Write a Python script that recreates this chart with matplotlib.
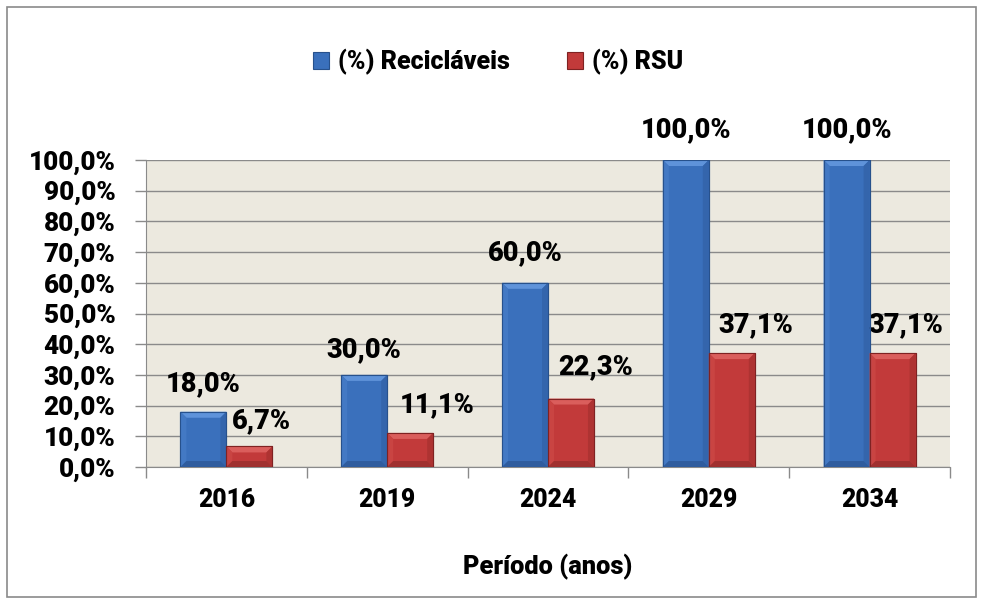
import matplotlib
matplotlib.use("Agg")
import matplotlib.pyplot as plt
import numpy as np
from matplotlib.patches import Polygon

plt.rcParams['font.family'] = ['Roboto', 'DejaVu Sans']
plt.rcParams['font.weight'] = 900

categories = ['2016', '2019', '2024', '2029', '2034']
reciclaveis = [18.0, 30.0, 60.0, 100.0, 100.0]
rsu = [6.7, 11.1, 22.3, 37.1, 37.1]
series_names = ['(%) Recicláveis', '(%) RSU']
yticks = [0, 10, 20, 30, 40, 50, 60, 70, 80, 90, 100]
x_label = 'Período (anos)'

fig = plt.figure(figsize=(9.84, 6.04), dpi=100)
ax = fig.add_axes([146/984, 1-467/604, (950-146)/984, (467-160)/604])
ax.set_facecolor('#ECE9DF')

x = np.arange(len(categories))
w = 0.286
blue = '#3A70BC'
red = '#C23A3A'
b1 = ax.bar(x - w/2, reciclaveis, w, color=blue, edgecolor='#27518c', linewidth=0.8, zorder=3, label=series_names[0])
b2 = ax.bar(x + w/2, rsu, w, color=red, edgecolor='#7f2222', linewidth=0.8, zorder=3, label=series_names[1])

ax.set_xlim(-0.5, len(categories) - 0.5)
ax.set_ylim(0, 100)

# bevel effect derived from each bar's geometry
bx = 6 / 160.8
by = 6 / 3.07
def bevel(bars, light, side_l, side_r, bottom):
    for p in bars:
        x0, y0 = p.get_x(), p.get_y()
        x1, y1 = x0 + p.get_width(), y0 + p.get_height()
        pts = {
            'top': [(x0, y1), (x0 + bx, y1 - by), (x1 - bx, y1 - by), (x1, y1)],
            'left': [(x0, y1), (x0 + bx, y1 - by), (x0 + bx, y0 + by), (x0, y0)],
            'right': [(x1, y1), (x1 - bx, y1 - by), (x1 - bx, y0 + by), (x1, y0)],
            'bottom': [(x0, y0), (x0 + bx, y0 + by), (x1 - bx, y0 + by), (x1, y0)],
        }
        for k, c in (('top', light), ('left', side_l), ('right', side_r), ('bottom', bottom)):
            ax.add_patch(Polygon(pts[k], closed=True, facecolor=c, edgecolor='none', zorder=3.5))
        ax.add_patch(plt.Rectangle((x0, y0), x1 - x0, y1 - y0, fill=False, edgecolor=p.get_edgecolor(), linewidth=0.8, zorder=3.6))

bevel(b1, '#5F93DA', '#4379C4', '#3465AC', '#2F5C9E')
bevel(b2, '#DA5E5C', '#C94442', '#AE3332', '#A0302F')

ax.set_yticks(yticks)
ax.set_yticklabels([f'{v:.1f}%'.replace('.', ',') for v in yticks], fontsize=18.8)
ax.yaxis.grid(True, color='#8a8a8a', linewidth=1.0, zorder=0)
ax.set_axisbelow(True)
ax.tick_params(axis='y', length=8, width=1, color='#8a8a8a', pad=14)
ax.set_xticks(x)
ax.set_xticklabels(categories, fontsize=17.7)
ax.set_xticks(np.arange(-0.5, len(categories)), minor=True)
ax.tick_params(axis='x', which='major', length=0, pad=15)
ax.tick_params(axis='x', which='minor', length=8, width=1, color='#8a8a8a')
for s in ['top', 'right']:
    ax.spines[s].set_visible(False)
ax.spines['left'].set_color('#8a8a8a')
ax.spines['bottom'].set_color('#8a8a8a')
ax.set_xlabel(x_label, fontsize=18.3, fontweight=900, labelpad=30)

dx_r = [11.6, 27, 25, 24, 13.6]
dy_r = [25.4, 28, 31.5, 28, 28]
dy_b = [27.7, 25, 30, 30, 30]
for i in range(len(categories)):
    ax.annotate(f'{reciclaveis[i]:.1f}%'.replace('.', ','), (x[i] - w/2, reciclaveis[i]),
                xytext=(0, dy_b[i]*0.72), textcoords='offset points', ha='center', va='center',
                fontsize=19.5, fontweight=900, annotation_clip=False)
    ax.annotate(f'{rsu[i]:.1f}%'.replace('.', ','), (x[i] + w/2, rsu[i]),
                xytext=(dx_r[i]*0.72, dy_r[i]*0.72), textcoords='offset points', ha='center', va='center',
                fontsize=19.5, fontweight=900, annotation_clip=False)

leg = fig.legend(handles=[b1, b2], loc='center', bbox_to_anchor=(498/984, 1-62/604), ncol=2, frameon=False,
                 prop={'size': 18, 'weight': 900}, handlelength=0.64, handleheight=0.64,
                 handletextpad=0.36, columnspacing=2.3)

fig.patches.append(plt.Rectangle((7/984, 7/604), 969/984, 590/604, transform=fig.transFigure,
                                 fill=False, edgecolor='#8a8a8a', linewidth=1.2))
fig.savefig('out.png', dpi=100)
